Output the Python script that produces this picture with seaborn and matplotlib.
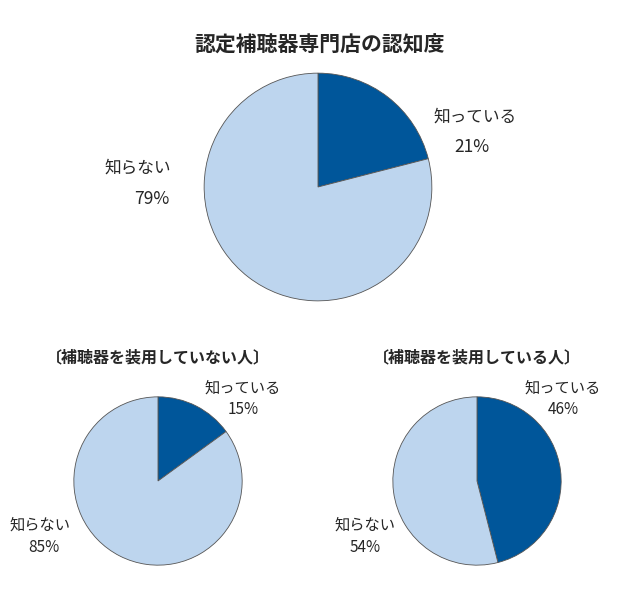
import matplotlib
matplotlib.use("Agg")
import matplotlib.pyplot as plt
import seaborn as sns

sns.set_theme(style="white")
plt.rcParams['font.family'] = ['Noto Sans CJK JP', 'DejaVu Sans']

# data
categories = ["知っている", "知らない"]
overall = [21, 79]
non_users = [15, 85]
users = [46, 54]
title = "認定補聴器専門店の認知度"
sub_titles = ["〔補聴器を装用していない人〕", "〔補聴器を装用している人〕"]

DARK = "#00569a"
LIGHT = "#bdd5ee"
W, H = 640, 600

fig = plt.figure(figsize=(W / 100, H / 100), dpi=100)


def pie_axes(cx, cy, r):
    ax = fig.add_axes([(cx - r) / W, 1 - (cy + r) / H, 2 * r / W, 2 * r / H])
    return ax


def draw_pie(ax, values):
    ax.pie(values, colors=[DARK, LIGHT], startangle=90, counterclock=False,
           wedgeprops=dict(edgecolor="#555555", linewidth=0.6))
    ax.set_xlim(-1.01, 1.01)
    ax.set_ylim(-1.01, 1.01)
    ax.set_axis_off()


def label(x, y, text, size=12, **kw):
    fig.text(x / W, 1 - y / H, text, fontsize=size, ha="center", va="center", **kw)


draw_pie(pie_axes(318, 187, 115), overall)
draw_pie(pie_axes(158, 481, 85), non_users)
draw_pie(pie_axes(477, 481, 85), users)

label(320, 45, title, size=15, fontweight="bold")
label(158, 357, sub_titles[0], size=11.5, fontweight="bold")
label(477, 357, sub_titles[1], size=11.5, fontweight="bold")

# main pie labels
label(475, 117, categories[0], size=12)
label(472, 147, f"{overall[0]}%", size=12.5)
label(138, 168, categories[1], size=12)
label(152, 199, f"{overall[1]}%", size=12.5)

# bottom-left labels
label(243, 388, categories[0], size=11)
label(243, 410, f"{non_users[0]}%", size=11)
label(40, 525, categories[1], size=11)
label(44, 548, f"{non_users[1]}%", size=11)

# bottom-right labels
label(563, 388, categories[0], size=11)
label(563, 410, f"{users[0]}%", size=11)
label(365, 525, categories[1], size=11)
label(365, 548, f"{users[1]}%", size=11)

fig.savefig("out.png", dpi=100, facecolor="white")
